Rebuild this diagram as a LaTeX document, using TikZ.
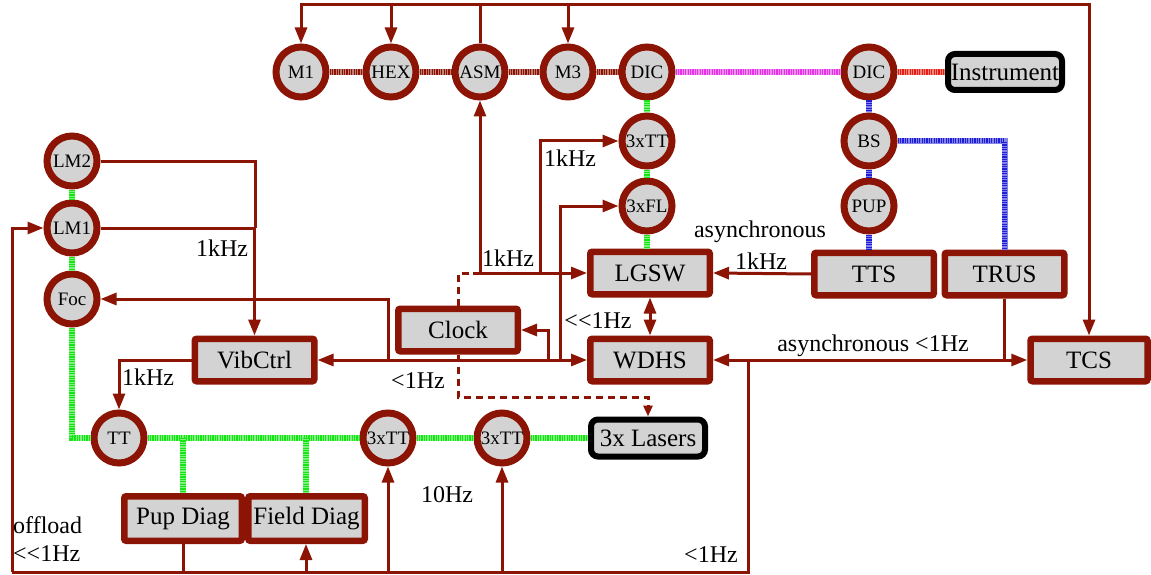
\documentclass[tikz,border=0pt]{standalone}
\usepackage{fontspec}
\setmainfont{Liberation Serif}
\usetikzlibrary{arrows.meta}
\definecolor{dred}{RGB}{140,20,5}
\definecolor{lgray}{RGB}{211,211,211}
\definecolor{hgreen}{RGB}{20,230,20}
\definecolor{hmag}{RGB}{230,50,230}
\definecolor{hblue}{RGB}{30,30,215}
\definecolor{hred}{RGB}{230,30,20}
\begin{document}
\begin{tikzpicture}[x=1pt,y=-1pt,
  circ/.style={circle,draw=dred,line width=7pt,fill=lgray,minimum size=50pt,inner sep=0pt,font=\fontsize{19}{20}\selectfont},
  box/.style={rectangle,draw=dred,line width=6.5pt,fill=lgray,minimum width=119.5pt,minimum height=42.5pt,rounded corners=2pt,inner sep=0pt,font=\fontsize{25}{28}\selectfont},
  bbox/.style={rectangle,draw=black,line width=6pt,fill=lgray,rounded corners=7pt,minimum width=114pt,minimum height=36pt,inner sep=0pt,font=\fontsize{25}{28}\selectfont},
  conn/.style={draw=dred,line width=3pt},
  arr/.style={conn,-{Triangle[length=16pt,width=12pt]}},
  dbl/.style={conn,{Triangle[length=16pt,width=12pt]}-{Triangle[length=16pt,width=12pt]}},
  clk/.style={draw=dred,line width=3pt,dash pattern=on 7pt off 5pt},
  clkarr/.style={clk,-{Triangle[length=11pt,width=9pt]}},
  hatch/.style={draw=#1,line width=6pt,dash pattern=on 1.2pt off 1.2pt,
    preaction={draw=#1!55!white,solid,line width=6pt}},
  lbl/.style={font=\fontsize{24}{26}\selectfont,inner sep=0pt},
]
\useasboundingbox (0,0) rectangle (1151,575);

% top row
\node[circ] (M1) at (301,72) {M1};
\node[circ] (HEX) at (391,72) {HEX};
\node[circ] (ASM) at (480,72) {ASM};
\node[circ] (M3) at (568,72) {M3};
\node[circ] (DICa) at (647,72) {DIC};
\node[circ] (DICb) at (869,72) {DIC};
\node[bbox] (Instr) at (1005,72) {Instrument};

% DIC columns
\node[circ] (TTa) at (647,141) {3xTT};
\node[circ] (FL) at (647,206) {3xFL};
\node[circ] (BS) at (869,141) {BS};
\node[circ] (PUP) at (869,206) {PUP};

% boxes
\node[box] (LGSW) at (650,273) {LGSW};
\node[box] (WDHS) at (650,360) {WDHS};
\node[box] (TTS) at (874,274) {TTS};
\node[box] (TRUS) at (1004.5,274) {TRUS};
\node[box,minimum width=117pt] (TCS) at (1089,360) {TCS};
\node[box] (VibCtrl) at (254.5,360) {VibCtrl};
\node[box] (Clock) at (458,330) {Clock};

% left column
\node[circ] (LM2) at (72,161) {LM2};
\node[circ] (LM1) at (72,228) {LM1};
\node[circ] (Foc) at (72,299) {Foc};

% bottom row
\node[circ] (TT) at (119,438) {TT};
\node[circ] (TTb) at (388,438) {3xTT};
\node[circ] (TTc) at (502,438) {3xTT};
\node[bbox,minimum height=37pt] (Lasers) at (648,438) {3x Lasers};
\node[box,minimum width=117.5pt,minimum height=44.5pt] (PupDiag) at (183,518.5) {Pup Diag};
\node[box,minimum width=116.5pt,minimum height=44.5pt] (FieldDiag) at (306.5,518.5) {Field Diag};

% hatched optical lines
\draw[hatch=dred] (M1.east) -- (HEX.west);
\draw[hatch=dred] (HEX.east) -- (ASM.west);
\draw[hatch=dred] (ASM.east) -- (M3.west);
\draw[hatch=dred] (M3.east) -- (DICa.west);
\draw[hatch=hmag] (DICa.east) -- (DICb.west);
\draw[hatch=hred] (DICb.east) -- (Instr.west);
\draw[hatch=hblue] (DICb.south) -- (BS.north);
\draw[hatch=hblue] (BS.south) -- (PUP.north);
\draw[hatch=hblue] (PUP.south) -- (PUP.south |- TTS.north);
\draw[hatch=hblue,line width=5pt] (BS.east) -| (TRUS.north);
\draw[hatch=hgreen] (DICa.south) -- (TTa.north);
\draw[hatch=hgreen] (TTa.south) -- (FL.north);
\draw[hatch=hgreen] (FL.south) -- (FL.south |- LGSW.north);
\draw[hatch=hgreen] (LM2.south) -- (LM1.north);
\draw[hatch=hgreen] (LM1.south) -- (Foc.north);
\draw[hatch=hgreen] (Foc.south) |- (TT.west);
\draw[hatch=hgreen] (TT.east) -- (TTb.west);
\draw[hatch=hgreen] (TTb.east) -- (TTc.west);
\draw[hatch=hgreen] (TTc.east) -- (Lasers.west);
\draw[hatch=hgreen] (183,438) -- (PupDiag.north);
\draw[hatch=hgreen] (306,438) -- (306,438 |- FieldDiag.north);

% top bus from ASM
\coordinate (bus) at (480,5);
\draw[conn] (ASM.north) -- (bus);
\draw[arr] (bus) -| (M1.north);
\draw[arr] (bus) -| (HEX.north);
\draw[arr] (bus) -| (M3.north);
\draw[arr] (bus) -| (TCS.north);

% LGSW connections
\coordinate (lg) at (473,273);
\draw[clk] (Clock.north) |- (lg);
\draw[arr] (lg) -- (LGSW.west);
\draw[arr] (480,273) -- (ASM.south);
\draw[arr] (540,273) |- (TTa.west);
\draw[arr] (560,360) |- (FL.west);
\draw[arr] (TTS.west) -- (LGSW.east);
\draw[dbl] (LGSW.south) -- (WDHS.north);

% WDHS west bus
\draw[dbl] (VibCtrl.east) -- (WDHS.west);
\draw[arr] (388,360) |- (Foc.east);
\draw[arr] (548,360) |- (Clock.east);

% WDHS - TCS
\draw[dbl] (WDHS.east) -- (TCS.west);
\draw[conn] (TRUS.south) -- (TRUS.south |- TCS.west);

% LM -> VibCtrl
\draw[conn] (LM2.east) -| (255,228);
\draw[arr] (LM1.east) -| (VibCtrl.north);
\draw[arr] (VibCtrl.west) -| (TT.north);

% bottom bus
\coordinate (bl) at (12,572);
\draw[conn] (748,360) -- (748,572) -- (bl);
\draw[arr] (bl) |- (LM1.west);
\draw[conn] (PupDiag.south) -- (183,572);
\draw[arr] (306,572) -- (306,572 |- FieldDiag.south);
\draw[arr] (388,572) -- (TTb.south);
\draw[arr] (502,572) -- (TTc.south);

% clock to lasers
\draw[clkarr] (Clock.south) -- (458,397) -| (Lasers.north);

% labels
\node[lbl] (l1) at (222,248) {1kHz};
\node[lbl] (l2) at (148,377) {1kHz};
\node[lbl] (l3) at (508,258) {1kHz};
\node[lbl] (l4) at (570,158) {1kHz};
\node[lbl] (l5) at (761,261) {1kHz};
\node[lbl] (l6) at (760,232) {asynchronous};
\node[lbl] (l7) at (598,321) {<{}<1Hz};
\node[lbl] (l8) at (418,381) {<1Hz};
\node[lbl] (l9) at (873,346) {asynchronous <1Hz};
\node[lbl] (l10) at (711,555) {<1Hz};
\node[lbl] (l11) at (447,495) {10Hz};
\node[lbl,anchor=west] (l12) at (13,525) {offload};
\node[lbl,anchor=west] (l13) at (13,554) {<{}<1Hz};
\end{tikzpicture}
\end{document}
